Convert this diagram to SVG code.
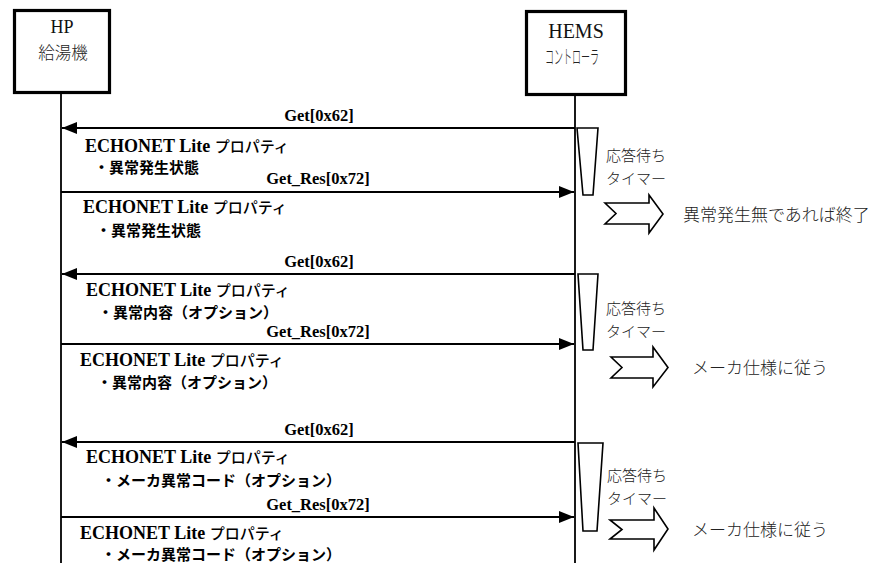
<svg xmlns="http://www.w3.org/2000/svg" width="886" height="563" viewBox="0 0 886 563">
<defs>
<style>
.box{fill:#fff;stroke:#000;stroke-width:3.2}
.life{stroke:#000;stroke-width:1.8;fill:none}
.msg{stroke:#000;stroke-width:2;fill:none;marker-end:url(#ah)}
.timer{fill:#fff;stroke:#000;stroke-width:1.6}
.blk{fill:#fff;stroke:#000;stroke-width:1.6;stroke-linejoin:miter}
.lbl{font-family:"Liberation Serif","Noto Sans CJK JP",serif;font-weight:bold;font-size:16.5px;fill:#000;text-anchor:middle}
.ech{font-family:"Liberation Serif","Noto Sans CJK JP",serif;font-weight:bold;font-size:18px;fill:#000}
.jp{font-family:"Noto Sans CJK JP",sans-serif;font-weight:bold;font-size:15px;fill:#000}
.jpk{font-family:"Noto Sans CJK JP",sans-serif;font-weight:500;font-size:15px}
.note{font-family:"Noto Sans CJK JP",sans-serif;font-weight:300;font-size:15px;fill:#222}
.big{font-family:"Noto Sans CJK JP",sans-serif;font-weight:300;font-size:17px;fill:#222}
.ttl{font-family:"Liberation Serif","Noto Sans CJK JP",serif;fill:#111;text-anchor:middle}
.ttj{font-family:"Noto Sans CJK JP",sans-serif;font-weight:300;fill:#222}
</style>
<marker id="ah" markerUnits="userSpaceOnUse" markerWidth="15" markerHeight="12" refX="15" refY="6" orient="auto">
<path d="M0,0 L15,6 L0,12 Z" fill="#000"/>
</marker>
</defs>
<rect width="886" height="563" fill="#fff"/>

<g id="hp">
<rect class="box" x="14.5" y="10.5" width="95" height="82"/>
<text class="ttl" x="62" y="33" font-size="18">HP</text>
<text class="ttj" x="63" y="59" font-size="16.5" text-anchor="middle">給湯機</text>
</g>
<g id="hems">
<rect class="box" x="526.5" y="11.5" width="99" height="83"/>
<text class="ttl" x="576" y="38" font-size="20">HEMS</text>
<text class="ttj" x="545" y="64" font-size="19" textLength="54" lengthAdjust="spacingAndGlyphs">コントローラ</text>
</g>

<g id="lifelines">
<line class="life" x1="61" y1="92" x2="61" y2="563"/>
<line class="life" x1="575" y1="95" x2="575" y2="563"/>
</g>

<g id="timers">
<polygon class="timer" points="577,128 598,128 593,195 583,195"/>
<polygon class="timer" points="578,274 598,274 593,350 583,350"/>
<polygon class="timer" points="578,443 603,443 597,531 583,531"/>
</g>

<g id="connectors">
<line class="msg" x1="575" y1="128" x2="62" y2="128"/>
<line class="msg" x1="61" y1="192" x2="574" y2="192"/>
<line class="msg" x1="575" y1="274" x2="62" y2="274"/>
<line class="msg" x1="61" y1="344" x2="574" y2="344"/>
<line class="msg" x1="575" y1="442" x2="62" y2="442"/>
<line class="msg" x1="61" y1="517" x2="574" y2="517"/>
</g>

<g id="labels">
<text class="lbl" x="319" y="121">Get[0x62]</text>
<text class="lbl" x="318" y="184">Get_Res[0x72]</text>
<text class="lbl" x="319" y="267">Get[0x62]</text>
<text class="lbl" x="318" y="337">Get_Res[0x72]</text>
<text class="lbl" x="319" y="435">Get[0x62]</text>
<text class="lbl" x="318" y="510">Get_Res[0x72]</text>
</g>

<g id="props">
<text class="ech" x="85" y="152">ECHONET Lite <tspan class="jpk">プロパティ</tspan></text>
<text class="jp" x="94" y="173">・異常発生状態</text>
<text class="ech" x="83" y="213">ECHONET Lite <tspan class="jpk">プロパティ</tspan></text>
<text class="jp" x="96" y="236">・異常発生状態</text>
<text class="ech" x="86" y="296">ECHONET Lite <tspan class="jpk">プロパティ</tspan></text>
<text class="jp" x="98" y="318">・異常内容（オプション）</text>
<text class="ech" x="80" y="366">ECHONET Lite <tspan class="jpk">プロパティ</tspan></text>
<text class="jp" x="97" y="388">・異常内容（オプション）</text>
<text class="ech" x="86" y="463">ECHONET Lite <tspan class="jpk">プロパティ</tspan></text>
<text class="jp" x="101" y="486">・メーカ異常コード（オプション）</text>
<text class="ech" x="80" y="539">ECHONET Lite <tspan class="jpk">プロパティ</tspan></text>
<text class="jp" x="101" y="560">・メーカ異常コード（オプション）</text>
</g>

<g id="timer-notes">
<text class="note" x="606" y="161">応答待ち</text>
<text class="note" x="606" y="184">タイマー</text>
<text class="note" x="606" y="314">応答待ち</text>
<text class="note" x="606" y="337">タイマー</text>
<text class="note" x="607" y="481">応答待ち</text>
<text class="note" x="607" y="504">タイマー</text>
</g>

<g id="result1">
<polygon class="blk" points="605,203 649,203 649,195 663,214 649,233 649,224 605,224 616,213.5"/>
<text class="big" x="683" y="221">異常発生無であれば終了</text>
</g>
<g id="result2">
<polygon class="blk" points="611,357 653,357 653,347 668,367.5 653,387 653,378 611,378 622,367.5"/>
<text class="big" x="692" y="374">メーカ仕様に従う</text>
</g>
<g id="result3">
<polygon class="blk" points="610,520 654,520 654,508 668,529 654,550 654,539 610,539 622,529.5"/>
<text class="big" x="692" y="536">メーカ仕様に従う</text>
</g>
</svg>
